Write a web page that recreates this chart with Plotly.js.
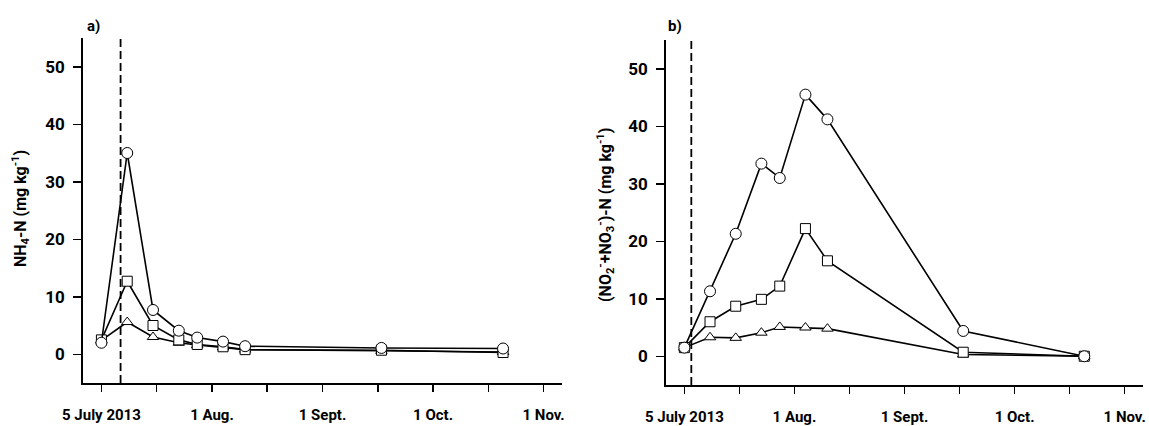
<!DOCTYPE html>
<html>
<head>
<meta charset="utf-8">
<script src="https://cdn.plot.ly/plotly-3.0.1.min.js"></script>
<style>html,body{margin:0;padding:0;background:#fff;}#chart{width:1149px;height:426px;}</style>
</head>
<body>
<div id="chart"></div>
<script>
// Sampling days (days after 5 July 2013)
const days = [0, 7, 14, 21, 26, 33, 39, 76, 109];

// Panel a) NH4-N (mg kg-1)
const nh4Circle   = [2.0, 35.0, 7.7, 4.1, 2.9, 2.2, 1.4, 1.1, 1.0];
const nh4Square   = [2.5, 12.7, 5.0, 2.5, 1.7, 1.3, 0.8, 0.7, 0.3];
const nh4Triangle = [2.4, 5.6, 3.0, 2.0, 1.6, 1.2, 0.8, 0.6, 0.4];

// Panel b) (NO2- + NO3-)-N (mg kg-1)
const noxCircle   = [1.5, 11.3, 21.3, 33.5, 31.0, 45.5, 41.2, 4.4, 0.0];
const noxSquare   = [1.5, 6.0, 8.7, 9.9, 12.2, 22.2, 16.6, 0.7, 0.0];
const noxTriangle = [1.5, 3.3, 3.2, 4.1, 5.1, 5.0, 4.8, 0.3, 0.0];

// Tick labels
const xTickVals = [0, 30, 60, 90, 120];
const xTickText = ['5 July 2013', '1 Aug.', '1 Sept.', '1 Oct.', '1 Nov.'];
const xMinorVals = [15, 45, 75, 105];
const yTickVals = [0, 10, 20, 30, 40, 50];

// Treatment lines (vertical dashed markers)
const treatA = 5.2;
const treatB = 1.9;

const FONT = 'Roboto, "DejaVu Sans Condensed", Arial, sans-serif';

function tr(y, sym, size, xa, ya) {
  return {
    x: days, y: y, xaxis: xa, yaxis: ya, type: 'scatter', mode: 'lines+markers',
    line: {color: '#000', width: 1.6},
    marker: {symbol: sym, size: size, color: '#fff', line: {color: '#000', width: 1}},
    showlegend: false, hoverinfo: 'skip', cliponaxis: false
  };
}

const data = [
  tr(nh4Triangle, 'triangle-up', 10, 'x', 'y'),
  tr(nh4Square, 'square', 10, 'x', 'y'),
  tr(nh4Circle, 'circle', 11, 'x', 'y'),
  tr(noxTriangle, 'triangle-up', 10, 'x2', 'y2'),
  tr(noxSquare, 'square', 10, 'x2', 'y2'),
  tr(noxCircle, 'circle', 11, 'x2', 'y2')
];

const W = 1149, H = 426;
function xa(d, anchor) {
  return {
    domain: d, anchor: anchor, range: [-5, 125], showgrid: false, zeroline: false,
    showline: true, linecolor: '#000', linewidth: 1.8,
    tickmode: 'array', tickvals: xTickVals, ticktext: xTickText,
    ticks: 'outside', ticklen: 7, tickwidth: 1.5, tickcolor: '#000',
    minor: {tickmode: 'array', tickvals: xMinorVals, ticks: 'outside', ticklen: 7, tickwidth: 1.5, tickcolor: '#000', showgrid: false},
    ticklabelstandoff: 10, ticklabeloverflow: 'allow',
    tickfont: {family: FONT, size: 15, color: '#000', weight: 'bold'}
  };
}
function ya(d, anchor) {
  return {
    domain: d, anchor: anchor, range: [-5, 55], showgrid: false, zeroline: false,
    showline: true, linecolor: '#000', linewidth: 1.8,
    tickmode: 'array', tickvals: yTickVals,
    ticks: 'outside', ticklen: 8, tickwidth: 1.5, tickcolor: '#000',
    ticklabelstandoff: 5,
    tickfont: {family: FONT, size: 17, color: '#000', weight: 'bold'}
  };
}

const layout = {
  width: W, height: H,
  margin: {l: 0, r: 0, t: 0, b: 0},
  paper_bgcolor: '#fff', plot_bgcolor: '#fff',
  xaxis: xa([83 / W, 562 / W], 'y'),
  yaxis: ya([(H - 383) / H, (H - 38) / H], 'x'),
  xaxis2: xa([666 / W, 1143 / W], 'y2'),
  yaxis2: ya([(H - 385) / H, (H - 40) / H], 'x2'),
  shapes: [
    {type: 'line', xref: 'x', yref: 'y', x0: treatA, x1: treatA, y0: -5, y1: 56,
     line: {color: '#000', width: 1.8, dash: '8px,4px'}},
    {type: 'line', xref: 'x2', yref: 'y2', x0: treatB, x1: treatB, y0: -5, y1: 55.5,
     line: {color: '#000', width: 1.8, dash: '8px,4px'}}
  ],
  annotations: [
    {xref: 'paper', yref: 'paper', x: 20 / W, y: (H - 209) / H, xanchor: 'center', yanchor: 'middle',
     text: 'NH<sub>4</sub>-N (mg kg<sup>-1</sup>)', textangle: -90, showarrow: false,
     font: {family: FONT, size: 16, color: '#000', weight: 'bold'}},
    {xref: 'paper', yref: 'paper', x: 605 / W, y: (H - 215) / H, xanchor: 'center', yanchor: 'middle',
     text: '(NO<sub>2</sub><sup>-</sup>+NO<sub>3</sub><sup>-</sup>)-N (mg kg<sup>-1</sup>)', textangle: -90, showarrow: false,
     font: {family: FONT, size: 16, color: '#000', weight: 'bold'}},
    {xref: 'paper', yref: 'paper', x: 85 / W, y: (H - 26) / H, xanchor: 'left', yanchor: 'middle',
     text: 'a)', showarrow: false, font: {family: FONT, size: 15, color: '#000', weight: 'bold'}},
    {xref: 'paper', yref: 'paper', x: 666 / W, y: (H - 26) / H, xanchor: 'left', yanchor: 'middle',
     text: 'b)', showarrow: false, font: {family: FONT, size: 15, color: '#000', weight: 'bold'}}
  ]
};

Plotly.newPlot('chart', data, layout, {staticPlot: true, displayModeBar: false});
</script>
</body>
</html>
